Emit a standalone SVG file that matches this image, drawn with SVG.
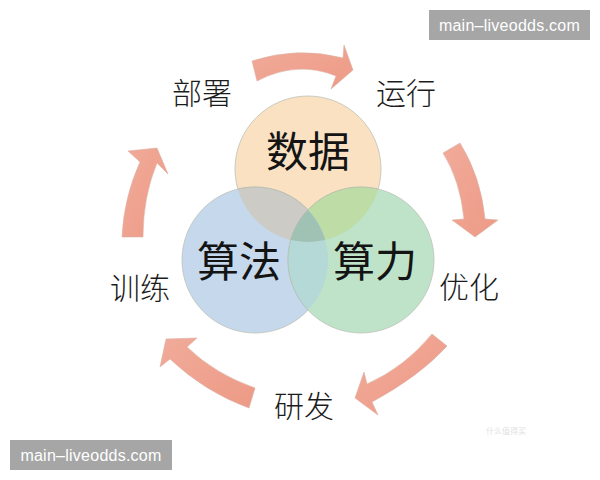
<svg xmlns="http://www.w3.org/2000/svg" width="600" height="480" viewBox="0 0 600 480">
<style>
text{font-family:"Noto Sans CJK SC","Liberation Sans",sans-serif;text-anchor:middle;fill:#141414}
.big{font-size:42px;font-weight:400}
.lab{font-size:30px;fill:#1c1c1c;font-weight:300}
.arrow{stroke:#dcb0a4;stroke-width:.6}
.c{stroke:#bcc2b6;stroke-width:.8}
.ov{stroke:#b4b8ae;stroke-width:.6}
.wm{fill:#a6a6a6}
.wt{font-family:"Liberation Sans",sans-serif;font-size:16px;fill:#fff;letter-spacing:.25px;font-weight:400}
</style>
<defs>
<linearGradient id="g" x1="0" y1="0" x2="1" y2="1"><stop offset="0" stop-color="#f1ab9a"/><stop offset="1" stop-color="#ed9a85"/></linearGradient>
<clipPath id="ct"><circle cx="308" cy="169" r="73"/></clipPath>
<clipPath id="cb"><circle cx="255" cy="260" r="73"/></clipPath>
</defs>
<rect width="600" height="480" fill="#fff"/>
<g id="connectors">
<path class="arrow" fill="url(#g)" d="M252 61Q297 46 343 58L344 45L353 70L331 89L336 76Q297 60 257 81Z"/>
<path class="arrow" fill="url(#g)" d="M443 153L460 143Q481 177 485 219L498 220L475 237L452 220L464 219Q460 180 443 153Z"/>
<path class="arrow" fill="url(#g)" d="M432 334L447 346Q420 376 372 402L378 415L355 398L364 372L367 384Q405 367 432 334Z"/>
<path class="arrow" fill="url(#g)" d="M255 388L249 408Q205 392 170 359L160 367L166 339L197 338L187 347Q215 374 255 388Z"/>
<path class="arrow" fill="url(#g)" d="M122 237L143 237Q143 197 157 163L168 174L157 148L128 151L140 162Q124 197 122 237Z"/>
</g>
<g id="node-data"><circle class="c" cx="308" cy="169" r="73" fill="#f9e1c2"/></g>
<g id="node-algo"><circle class="c" cx="255" cy="260" r="73" fill="#c5d8ec"/></g>
<g id="node-power"><circle class="c" cx="361" cy="260" r="73" fill="#bfe3c9"/></g>
<g id="overlaps">
<circle class="ov" cx="255" cy="260" r="73" fill="#cccbc5" clip-path="url(#ct)"/>
<circle class="ov" cx="361" cy="260" r="73" fill="#bedca6" clip-path="url(#ct)"/>
<circle class="ov" cx="361" cy="260" r="73" fill="#b4d9d6" clip-path="url(#cb)"/>
<g clip-path="url(#ct)"><circle class="ov" cx="361" cy="260" r="73" fill="#a0c2b4" clip-path="url(#cb)"/></g>
</g>
<g id="labels">
<text class="big" x="308" y="167">数据</text>
<text class="big" x="239" y="277">算法</text>
<text class="big" x="375" y="277">算力</text>
<text class="lab" x="202" y="104">部署</text>
<text class="lab" x="406" y="104">运行</text>
<text class="lab" x="469" y="298">优化</text>
<text class="lab" x="304" y="417">研发</text>
<text class="lab" x="140" y="299">训练</text>
</g>
<text x="506" y="434" style="font-size:8px;fill:#e2e2e2">什么值得买</text>
<g id="watermarks">
<rect class="wm" x="429" y="10" width="161" height="30"/>
<text class="wt" x="509.500" y="31">main–liveodds.com</text>
<rect class="wm" x="10" y="440" width="162" height="30"/>
<text class="wt" x="91" y="461">main–liveodds.com</text>
</g>
</svg>
